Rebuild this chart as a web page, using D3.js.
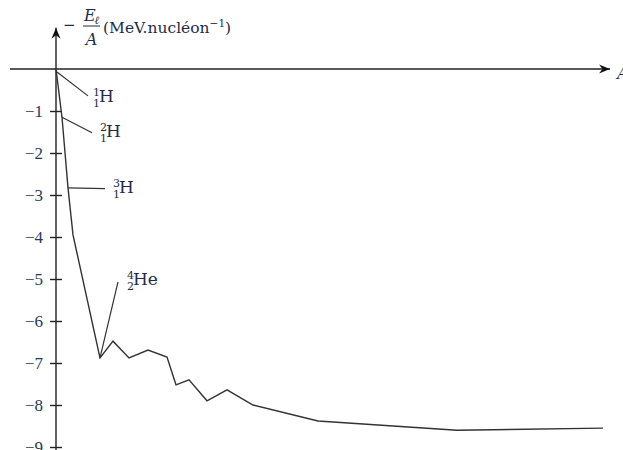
<!DOCTYPE html>
<html>
<head>
<meta charset="utf-8">
<script src="https://cdn.jsdelivr.net/npm/d3@7"></script>
<style>
  body { margin: 0; background: #fff; }
  text { font-family: "DejaVu Serif", "Liberation Serif", serif; fill: #1f2b4a; }
</style>
</head>
<body>
<script>
// schematic horizontal position along the A axis (not to scale) and -El/A in MeV per nucleon
var posA   = [0, 6, 12, 17, 44, 57, 73, 92, 111, 120, 133, 151, 171, 197, 262, 401, 547];
var energy = [0, -1.15, -2.83, -3.95, -6.88, -6.48, -6.88, -6.69, -6.86, -7.52, -7.40, -7.90, -7.64, -8.0, -8.38, -8.6, -8.55];
var yTicks = [-1, -2, -3, -4, -5, -6, -7, -8, -9];

// labelled nuclei: index of point on the curve, superscript A, subscript Z, symbol
var nucIndex = [0, 1, 2, 4];
var nucMass  = ["1", "2", "3", "4"];
var nucZ     = ["1", "1", "1", "2"];
var nucSym   = ["H", "H", "H", "He"];
// end of the leader line, in chart units
var leadA = [32, 36, 49, 62];
var leadE = [-0.64, -1.52, -2.85, -5.07];
// label anchor (baseline, left of the indices), in chart units
var labA = [37, 44, 57, 71];
var labE = [-0.79, -1.62, -2.95, -5.14];

var width = 623, height = 450;

var x = d3.scaleLinear().domain([0, 550]).range([56, 606]);
var y = d3.scaleLinear().domain([0, -9]).range([69, 447]);

var svg = d3.select("body").append("svg")
    .attr("width", width)
    .attr("height", height);

var defs = svg.append("defs");
defs.append("marker")
    .attr("id", "arr")
    .attr("viewBox", "-11 -5 12 10")
    .attr("refX", 0).attr("refY", 0)
    .attr("markerWidth", 12).attr("markerHeight", 10)
    .attr("markerUnits", "userSpaceOnUse")
    .attr("orient", "auto")
    .append("path")
    .attr("d", "M0,0 L-11,-4.5 L-7.5,0 L-11,4.5 Z")
    .style("fill", "#111");

// horizontal axis
svg.append("line")
    .attr("x1", x(-46)).attr("x2", x(554))
    .attr("y1", y(0)).attr("y2", y(0))
    .style("stroke", "#222").style("stroke-width", 1.4)
    .attr("marker-end", "url(#arr)");

svg.append("text")
    .attr("x", 617).attr("y", 79)
    .style("font-style", "italic").style("font-size", "17px")
    .text("A");

// vertical axis
svg.append("line")
    .attr("x1", x(0)).attr("x2", x(0))
    .attr("y1", height).attr("y2", y(0.98))
    .style("stroke", "#222").style("stroke-width", 1.4)
    .attr("marker-end", "url(#arr)");

var yAxis = d3.axisLeft(y)
    .tickValues(yTicks)
    .tickSize(6)
    .tickPadding(7)
    .tickFormat(function (d) { return "\u2212" + Math.abs(d); });

var gy = svg.append("g")
    .attr("transform", "translate(" + x(0) + ",0)")
    .call(yAxis);
gy.select(".domain").remove();
gy.selectAll(".tick line")
    .attr("x1", 6).attr("x2", -6)
    .style("stroke", "#222").style("stroke-width", 1.4);
gy.selectAll(".tick text")
    .style("font-family", "'Liberation Serif', serif")
    .style("font-size", "17px")
    .style("fill", "#2a3858");

// axis title  - El / A (MeV.nucleon^-1)
var title = svg.append("g");
title.append("text").attr("x", 63).attr("y", 30).style("font-size", "15px").text("\u2212");
title.append("text").attr("x", 84).attr("y", 21)
    .style("font-size", "16px").style("font-style", "italic").text("E");
title.append("text").attr("x", 94.5).attr("y", 24)
    .style("font-size", "11px").style("font-style", "italic").text("\u2113");
title.append("line").attr("x1", 83).attr("x2", 100).attr("y1", 26).attr("y2", 26)
    .style("stroke", "#1f2b4a").style("stroke-width", 1);
title.append("text").attr("x", 91.5).attr("y", 45).attr("text-anchor", "middle")
    .style("font-size", "16px").style("font-style", "italic").text("A");
var unit = title.append("text").attr("x", 103).attr("y", 33).style("font-size", "15.5px");
unit.append("tspan").text("(MeV.nucl\u00e9on");
unit.append("tspan").attr("dy", -6).style("font-size", "10.5px").text("\u22121");
unit.append("tspan").attr("dy", 6).text(")");

// curve
var pts = posA.map(function (a, i) { return [a, energy[i]]; });
var line = d3.line()
    .x(function (d) { return x(d[0]); })
    .y(function (d) { return y(d[1]); });

svg.append("path")
    .datum(pts)
    .attr("d", line)
    .style("fill", "none")
    .style("stroke", "#333")
    .style("stroke-width", 1.4)
    .style("stroke-linejoin", "miter");

// leader lines and nucleus labels
var nuc = svg.selectAll("g.nuc")
    .data(nucIndex)
    .join("g")
    .attr("class", "nuc");

nuc.append("line")
    .attr("x1", function (d) { return x(posA[d]) + (d === 0 ? 1 : 0); })
    .attr("y1", function (d) { return y(energy[d]) + (d === 0 ? 3 : 0); })
    .attr("x2", function (d, i) { return x(leadA[i]); })
    .attr("y2", function (d, i) { return y(leadE[i]); })
    .style("stroke", "#333")
    .style("stroke-width", 1.2);

nuc.each(function (d, i) {
    var lx = x(labA[i]);
    var ly = y(labE[i]);
    var t = d3.select(this).append("text").attr("x", lx).attr("y", ly);
    t.append("tspan").attr("x", lx).attr("dy", -6)
        .style("font-size", "11px").text(nucMass[i]);
    t.append("tspan").attr("x", lx).attr("dy", 11)
        .style("font-size", "11px").text(nucZ[i]);
    t.append("tspan").attr("x", lx + 6).attr("dy", -5)
        .style("font-size", "17px").text(nucSym[i]);
});
</script>
</body>
</html>
